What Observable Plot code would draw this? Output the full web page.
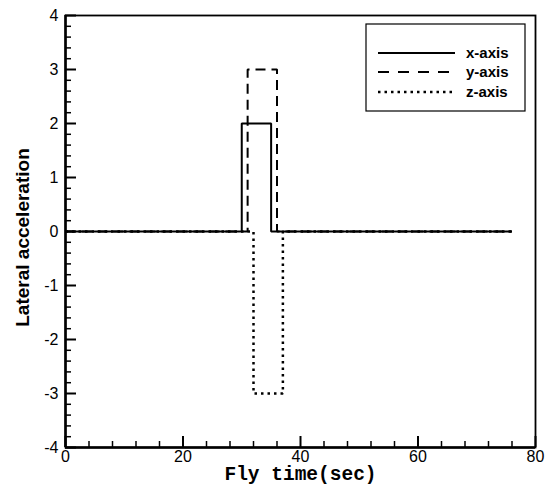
<!DOCTYPE html>
<html>
<head>
<meta charset="utf-8">
<script src="https://cdn.jsdelivr.net/npm/d3@7"></script>
<script src="https://cdn.jsdelivr.net/npm/@observablehq/plot@0.6"></script>
<style>
  body { margin: 0; background: #fff; }
</style>
</head>
<body>
<div id="chart"></div>
<script>
// Lateral acceleration pulses for each axis over the flight time
const seriesNames = ["x-axis", "y-axis", "z-axis"];

const timeX  = [0, 30, 30, 35, 35, 76];
const accelX = [0, 0, 2, 2, 0, 0];

const timeY  = [0, 31, 31, 36, 36, 76];
const accelY = [0, 0, 3, 3, 0, 0];

const timeZ  = [0, 32, 32, 37, 37, 76];
const accelZ = [0, 0, -3, -3, 0, 0];

// Axis ticks
const xMajorTicks = [0, 20, 40, 60, 80];
const yMajorTicks = [-4, -3, -2, -1, 0, 1, 2, 3, 4];
const xMinorTicks = d3.range(0, 81, 4).filter(v => v % 20 !== 0);
const yMinorTicks = d3.range(-40, 41, 2).filter(v => v % 10 !== 0).map(v => v / 10);

const rows = (t, a) => t.map((v, i) => ({t: v, a: a[i]}));

const W = 551, H = 487;
const mL = 65, mR = 16, mT = 15, mB = 40;
const frameW = W - mL - mR, frameH = H - mT - mB;

const lineStyles = [
  {strokeDasharray: null, strokeWidth: 2},
  {strokeDasharray: "10,6", strokeWidth: 2},
  {strokeDasharray: "2.5,4", strokeWidth: 2.5}
];
const seriesData = [rows(timeX, accelX), rows(timeY, accelY), rows(timeZ, accelZ)];

const plot = Plot.plot({
  width: W,
  height: H,
  marginLeft: mL,
  marginRight: mR,
  marginTop: mT,
  marginBottom: mB,
  x: {domain: [0, 80]},
  y: {domain: [-4, 4]},
  style: {fontFamily: "'Liberation Sans', Arial, sans-serif", fontSize: "16px", color: "#000", background: "#fff"},
  marks: [
    // inward tick marks
    Plot.tickX(xMinorTicks, {x: d => d, insetTop: frameH - 6, stroke: "#000", strokeWidth: 1.5}),
    Plot.tickX(xMajorTicks, {x: d => d, insetTop: frameH - 11, stroke: "#000", strokeWidth: 2}),
    Plot.tickY(yMinorTicks, {y: d => d, insetRight: frameW - 6, stroke: "#000", strokeWidth: 1.5}),
    Plot.tickY(yMajorTicks, {y: d => d, insetRight: frameW - 11, stroke: "#000", strokeWidth: 2}),
    Plot.axisX(xMajorTicks, {tickSize: 0, tickPadding: 3, tickFormat: d => String(d), label: null, fontSize: 16}),
    Plot.axisY(yMajorTicks, {tickSize: 0, tickPadding: 7, tickFormat: d => String(d), label: null, fontSize: 16}),
    Plot.frame({stroke: "#000", strokeWidth: 1.8}),
    Plot.ruleX([0], {stroke: "#000", strokeWidth: 2.5}),
    Plot.ruleY([-4], {stroke: "#000", strokeWidth: 2.5}),
    // series
    ...seriesData.map((d, i) => Plot.line(d, {
      x: "t", y: "a", stroke: "#000",
      strokeWidth: lineStyles[i].strokeWidth,
      strokeDasharray: lineStyles[i].strokeDasharray,
      strokeLinecap: "butt",
      strokeLinejoin: "miter"
    })),
    // axis titles
    Plot.text(["Fly time(sec)"], {
      frameAnchor: "bottom", textAnchor: "middle", dy: 32.5,
      fontFamily: "'Liberation Mono', 'Courier New', monospace",
      fontWeight: "bold", fontSize: 19.5, fill: "#000"
    }),
    Plot.text(["Lateral acceleration"], {
      frameAnchor: "left", textAnchor: "middle", dx: -43, dy: 6, rotate: -90,
      fontWeight: "bold", fontSize: 19, fill: "#000"
    })
  ]
});

const svg = d3.select(plot);

// tick labels in the larger plain face
svg.selectAll('g[aria-label="x-axis tick label"] text, g[aria-label="y-axis tick label"] text')
  .style("font-size", "16px")
  .style("font-family", "'Liberation Sans', Arial, sans-serif");

// Legend box in the upper right corner
const lg = svg.append("g").attr("class", "legend");
lg.append("rect")
  .attr("x", 366).attr("y", 24).attr("width", 159).attr("height", 87)
  .attr("fill", "#fff").attr("stroke", "#000").attr("stroke-width", 1.2);
const rowY = [53, 72, 92];
seriesNames.forEach((name, i) => {
  lg.append("line")
    .attr("x1", 378).attr("x2", 455).attr("y1", rowY[i]).attr("y2", rowY[i])
    .attr("stroke", "#000").attr("stroke-width", lineStyles[i].strokeWidth)
    .attr("stroke-dasharray", i === 1 ? "11,9" : lineStyles[i].strokeDasharray)
    .attr("stroke-linecap", "butt");
  lg.append("text")
    .attr("x", 466).attr("y", rowY[i]).attr("dy", "0.35em")
    .attr("text-anchor", "start")
    .attr("font-weight", "bold").attr("font-size", 15)
    .attr("font-family", "'Liberation Sans', Arial, sans-serif")
    .attr("fill", "#000")
    .text(name);
});

document.getElementById("chart").appendChild(plot);
</script>
</body>
</html>
